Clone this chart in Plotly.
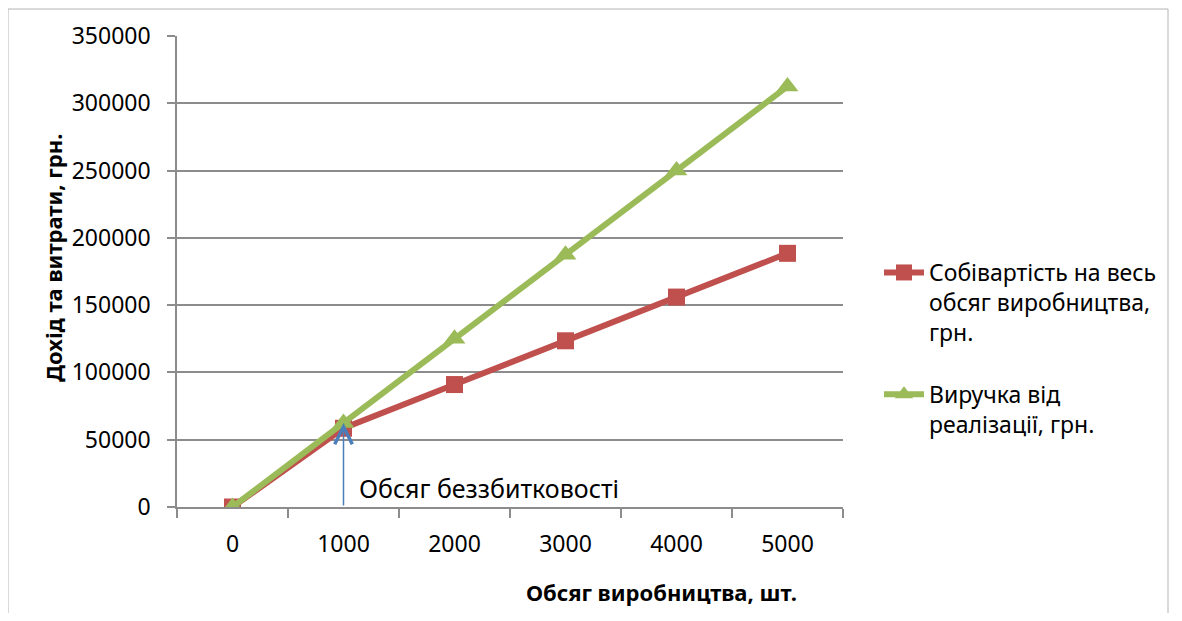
import plotly.graph_objects as go

# Data
quantity = ["0", "1000", "2000", "3000", "4000", "5000"]
cost_total = [0, 58500, 91000, 123500, 156000, 188500]
revenue = [0, 62500, 125000, 187500, 250000, 312500]
cost_name = "Собівартість на весь<br>обсяг виробництва,<br>грн."
revenue_name = "Виручка від<br>реалізації, грн."
breakeven_idx = 1
breakeven_label = "Обсяг беззбитковості"
x_title = "Обсяг виробництва, шт."
y_title = "Дохід та витрати, грн."

FONT = "Noto Sans"
RED = "#C0504D"
GREEN = "#9BBB59"
GRID = "#8c8c8c"

W, H = 1166, 605
L, R, T, B = 169, 331, 28, 106
PW, PH = W - L - R, H - T - B

fig = go.Figure()
fig.add_trace(go.Scatter(
    x=quantity, y=cost_total, name=cost_name, mode="lines+markers",
    line=dict(color=RED, width=6),
    marker=dict(symbol="square", size=17, color=RED),
    legendgroup="a",
))
fig.add_trace(go.Scatter(
    x=quantity, y=revenue, name=revenue_name, mode="lines+markers",
    line=dict(color=GREEN, width=6),
    marker=dict(symbol="triangle-up", size=19, color=GREEN),
    legendgroup="b",
))

fig.update_layout(
    width=W, height=H,
    margin=dict(l=L, r=R, t=T, b=B),
    paper_bgcolor="white", plot_bgcolor="white",
    font=dict(family=FONT, size=23, color="black"),
    showlegend=True,
    legend=dict(
        x=(871 - L) / PW, y=(H - B - 243) / PH, xanchor="left", yanchor="top",
        font=dict(family=FONT, size=23, color="black"),
        valign="top", traceorder="grouped", tracegroupgap=29, itemwidth=40,
        bgcolor="rgba(0,0,0,0)",
    ),
    xaxis=dict(
        type="category", range=[-0.5, 5.5],
        showgrid=False, showline=True, linecolor=GRID, linewidth=1.5,
        ticks="outside", tickson="boundaries", ticklen=9, tickcolor=GRID, tickwidth=1.5,
        tickfont=dict(family=FONT, size=23, color="black"),
        ticklabelstandoff=16,
    ),
    yaxis=dict(
        range=[0, 350000], dtick=50000, tickformat="d",
        showgrid=True, gridcolor=GRID, gridwidth=1.5,
        zeroline=False,
        showline=True, linecolor=GRID, linewidth=1.5,
        ticks="outside", ticklen=8, tickcolor=GRID, tickwidth=1.5,
        tickfont=dict(family=FONT, size=23, color="black"),
        ticklabelstandoff=12,
    ),
)

# Break-even arrow
fig.add_annotation(
    x=breakeven_idx, y=revenue[breakeven_idx], xref="x", yref="y",
    ax=breakeven_idx, ay=0, axref="x", ayref="y",
    showarrow=True, arrowhead=5, arrowsize=2.3, arrowwidth=1.5,
    arrowcolor="#4A7EBB", text="", standoff=0,
)
fig.add_annotation(
    x=breakeven_idx, y=(H - B - 480) / PH, xref="x", yref="paper",
    xanchor="left", yanchor="middle", xshift=13,
    text=breakeven_label, showarrow=False,
    font=dict(family=FONT, size=25, color="black"),
)

# Axis titles
fig.add_annotation(
    x=(653 - L) / PW, y=(H - B - 584) / PH, xref="paper", yref="paper",
    xanchor="center", yanchor="middle", text="<b>" + x_title + "</b>",
    showarrow=False, font=dict(family=FONT, size=22, color="black"),
)
fig.add_annotation(
    x=(45 - L) / PW, y=(H - B - 250) / PH, xref="paper", yref="paper",
    xanchor="center", yanchor="middle", text="<b>" + y_title + "</b>",
    textangle=-90, showarrow=False, font=dict(family=FONT, size=22, color="black"),
)

# Outer chart border
fig.add_shape(
    type="rect", xref="paper", yref="paper",
    x0=(0 - L) / PW, x1=(1160 - L) / PW,
    y0=(H - B - 640) / PH, y1=(H - B - 1) / PH,
    line=dict(color="#b4b4b4", width=1), layer="below",
)

fig.write_html("out.html")
